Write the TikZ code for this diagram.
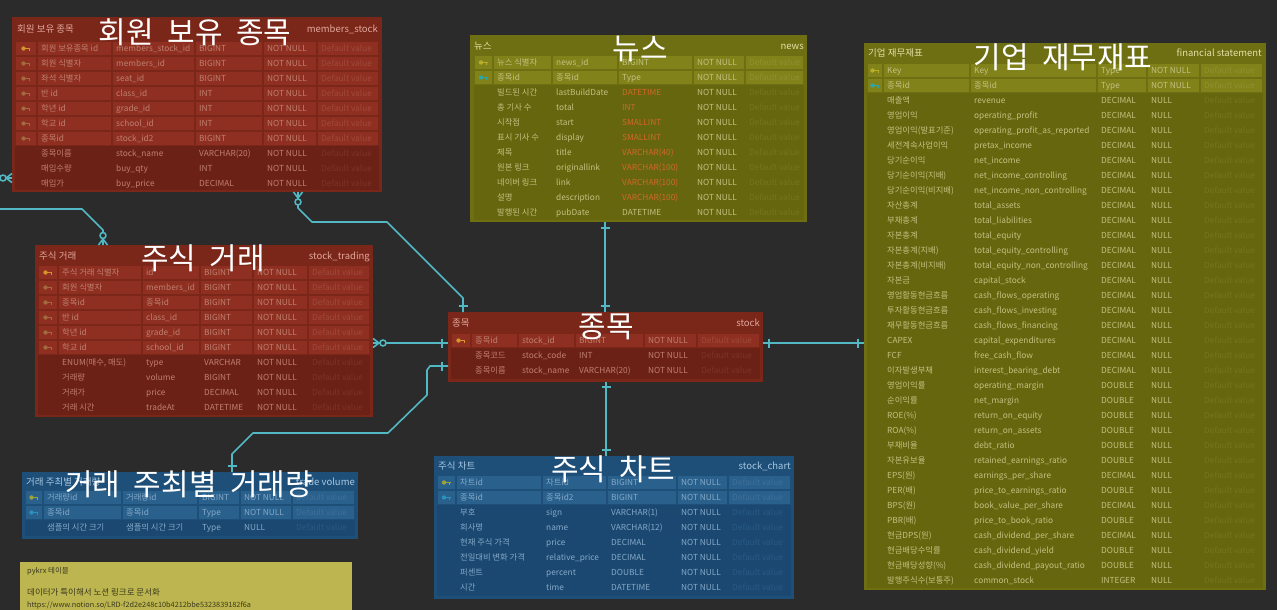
\documentclass[tikz,border=0pt]{standalone}
\usepackage{fontspec}
\setmainfont{Noto Sans CJK KR}
\newfontfamily\bigf[WordSpace=2]{Noto Sans CJK KR}
\definecolor{bg}{HTML}{2B2B2B}
\definecolor{redHead}{HTML}{7A2619}
\definecolor{redKey}{HTML}{8E2F21}
\definecolor{redPlain}{HTML}{6C2117}
\definecolor{redTxt}{HTML}{C0806F}
\definecolor{redDef}{HTML}{A04A3A}
\definecolor{redPDef}{HTML}{7E3327}
\definecolor{redHdr}{HTML}{E2A99C}
\definecolor{oliveHead}{HTML}{6E6E12}
\definecolor{oliveKey}{HTML}{82821A}
\definecolor{olivePlain}{HTML}{66660F}
\definecolor{oliveTxt}{HTML}{C2C282}
\definecolor{oliveDef}{HTML}{909030}
\definecolor{olivePDef}{HTML}{75751C}
\definecolor{oliveHdr}{HTML}{E2E2A8}
\definecolor{newsOr}{HTML}{D2682A}
\definecolor{blueHead}{HTML}{1D4F79}
\definecolor{blueKey}{HTML}{29608C}
\definecolor{bluePlain}{HTML}{1B4870}
\definecolor{blueTxt}{HTML}{85A9C9}
\definecolor{blueDef}{HTML}{3F7099}
\definecolor{bluePDef}{HTML}{285A84}
\definecolor{blueHdr}{HTML}{A9C8E2}
\definecolor{pkC}{HTML}{D5942B}
\definecolor{fkR}{HTML}{A36A3E}
\definecolor{pkY}{HTML}{B8AE2A}
\definecolor{fkT}{HTML}{2FA5A5}
\definecolor{pkB}{HTML}{9DA33A}
\definecolor{fkB}{HTML}{2B92C0}
\definecolor{lineC}{HTML}{52B8C4}
\definecolor{noteC}{HTML}{BDB650}
\definecolor{noteTxt}{HTML}{3A381C}

\newcommand\cols[7]{\def\ca{#1}\def\cb{#2}\def\cc{#3}\def\cd{#4}\def\ce{#5}\def\cf{#6}\def\cg{#7}}
\newcommand\tstyle[6]{\def\kfill{#1}\def\ktext{#2}\def\ktype{#2}\def\kdef{#3}\def\ptext{#4}\def\ptype{#4}\def\pdef{#5}\def\hdrc{#6}}
\newcommand\cellbg[3]{\fill[fill=\kfill] ({#1+0.7},{#3+0.7}) rectangle ({#2-0.7},{#3+14.3});}
\newcommand\keyic[3]{\fill[fill=#3] ({#1-2.5},{#2}) circle[radius=2.2pt];
  \draw[draw=#3,line width=1.3pt] ({#1-1},{#2}) -- ({#1+4},{#2});
  \draw[draw=#3,line width=1pt] ({#1+3},{#2}) -- ({#1+3},{#2+2.5});}
\newcommand\krow[9]{%
  \cellbg{\ca}{\cb}{#3}\cellbg{\cb}{\cc}{#3}\cellbg{\cc}{\cd}{#3}%
  \cellbg{\cd}{\ce}{#3}\cellbg{\ce}{\cf}{#3}\cellbg{\cf}{\cg}{#3}%
  \keyic{(\ca+\cb)/2}{#3+7.5}{#4}%
  \node[cell,text=\ktext] (#1-#2-a) at ({\cb+4},{#3+10.6}) {#5};%
  \node[cell,text=\ktext] (#1-#2-b) at ({\cc+4},{#3+10.6}) {#6};%
  \node[cell,text=\ktype] (#1-#2-c) at ({\cd+4},{#3+10.6}) {#7};%
  \node[cell,text=\ktext] (#1-#2-d) at ({\ce+4},{#3+10.6}) {#8};%
  \node[cell,text=\kdef] (#1-#2-e) at ({\cf+4},{#3+10.6}) {#9};}
\newcommand\prow[8]{%
  \node[cell,text=\ptext] (#1-#2-a) at ({\cb+4},{#3+10.6}) {#4};%
  \node[cell,text=\ptext] (#1-#2-b) at ({\cc+4},{#3+10.6}) {#5};%
  \node[cell,text=\ptype] (#1-#2-c) at ({\cd+4},{#3+10.6}) {#6};%
  \node[cell,text=\ptext] (#1-#2-d) at ({\ce+4},{#3+10.6}) {#7};%
  \node[cell,text=\pdef] (#1-#2-e) at ({\cf+4},{#3+10.6}) {#8};}
\newcommand\hdrleft[4]{\node[hdr,text=\hdrc,anchor=base west] (#1-hl) at (#2,#3) {#4};}
\newcommand\hdrright[4]{\node[hdr,text=\hdrc,anchor=base east] (#1-hr) at (#2,#3) {#4};}
\newcommand\crowV[3]{\draw[conn] ({#1-4.5},#2) -- (#1,{#2+#3}) -- ({#1+4.5},#2);}
\newcommand\crowH[3]{\draw[conn] (#1,{#2-4.5}) -- ({#1+#3},#2) -- (#1,{#2+4.5});}
\newcommand\ring[2]{\draw[conn,fill=bg] (#1,#2) circle[radius=3pt];}
\newcommand\barH[2]{\draw[conn] ({#1-4.5},#2) -- ({#1+4.5},#2);}
\newcommand\barV[2]{\draw[conn] (#1,{#2-4.5}) -- (#1,{#2+4.5});}

\begin{document}
\begin{tikzpicture}[x=1pt,y=-1pt,
  tbox/.style={draw=none,inner sep=0pt,outer sep=0pt,anchor=north west},
  cell/.style={font=\fontsize{8.3}{9}\selectfont,inner sep=0pt,anchor=base west},
  hdr/.style={font=\fontsize{9.5}{10}\selectfont,inner sep=0pt},
  big/.style={font=\bigf\fontsize{30}{32}\selectfont,text=white,inner sep=0pt},
  conn/.style={draw=lineC,line width=1.6pt,line join=round}]
\fill[bg] (0,0) rectangle (1277,610);
\useasboundingbox (0,0) rectangle (1277,610);

% ================= members_stock
\node[tbox,fill=redHead,minimum width=370pt,minimum height=175pt] (ms) at (12,17) {};
\fill[redPlain] (15,146) rectangle (379,190);
\cols{15}{37}{112}{195}{263}{317}{379}
\tstyle{redKey}{redTxt}{redDef}{redTxt}{redPDef}{redHdr}
\hdrleft{ms}{17}{33}{회원 보유 종목}
\hdrright{ms}{378}{33}{members\_stock}
\krow{ms}{1}{41}{pkC}{회원 보유종목 id}{members\_stock\_id}{BIGINT}{NOT NULL}{Default value}
\krow{ms}{2}{56}{fkR}{회원 식별자}{members\_id}{BIGINT}{NOT NULL}{Default value}
\krow{ms}{3}{71}{fkR}{좌석 식별자}{seat\_id}{BIGINT}{NOT NULL}{Default value}
\krow{ms}{4}{86}{fkR}{반 id}{class\_id}{INT}{NOT NULL}{Default value}
\krow{ms}{5}{101}{fkR}{학년 id}{grade\_id}{INT}{NOT NULL}{Default value}
\krow{ms}{6}{116}{fkR}{학교 id}{school\_id}{INT}{NOT NULL}{Default value}
\krow{ms}{7}{131}{fkR}{종목id}{stock\_id2}{BIGINT}{NOT NULL}{Default value}
\prow{ms}{8}{146}{종목이름}{stock\_name}{VARCHAR(20)}{NOT NULL}{Default value}
\prow{ms}{9}{161}{매입수량}{buy\_qty}{INT}{NOT NULL}{Default value}
\prow{ms}{10}{176}{매입가}{buy\_price}{DECIMAL}{NOT NULL}{Default value}

% ================= stock_trading
\node[tbox,fill=redHead,minimum width=338pt,minimum height=172pt] (tr) at (35,245) {};
\fill[redPlain] (38,355) rectangle (370,415);
\cols{38}{58}{142}{200}{253}{308}{370}
\hdrleft{tr}{39}{259}{주식 거래}
\hdrright{tr}{370}{259}{stock\_trading}
\krow{tr}{1}{265}{pkC}{주식 거래 식별자}{id}{BIGINT}{NOT NULL}{Default value}
\krow{tr}{2}{280}{fkR}{회원 식별자}{members\_id}{BIGINT}{NOT NULL}{Default value}
\krow{tr}{3}{295}{fkR}{종목id}{종목id}{BIGINT}{NOT NULL}{Default value}
\krow{tr}{4}{310}{fkR}{반 id}{class\_id}{BIGINT}{NOT NULL}{Default value}
\krow{tr}{5}{325}{fkR}{학년 id}{grade\_id}{BIGINT}{NOT NULL}{Default value}
\krow{tr}{6}{340}{fkR}{학교 id}{school\_id}{BIGINT}{NOT NULL}{Default value}
\prow{tr}{7}{355}{ENUM(매수, 매도)}{type}{VARCHAR}{NOT NULL}{Default value}
\prow{tr}{8}{370}{거래량}{volume}{BIGINT}{NOT NULL}{Default value}
\prow{tr}{9}{385}{거래가}{price}{DECIMAL}{NOT NULL}{Default value}
\prow{tr}{10}{400}{거래 시간}{tradeAt}{DATETIME}{NOT NULL}{Default value}

% ================= news
\node[tbox,fill=oliveHead,minimum width=337pt,minimum height=187pt] (nw) at (470,35) {};
\fill[olivePlain] (474,85) rectangle (804,220);
\cols{474}{493}{552}{618}{693}{745}{804}
\tstyle{oliveKey}{oliveTxt}{oliveDef}{oliveTxt}{olivePDef}{oliveHdr}
\hdrleft{nw}{474}{49}{뉴스}
\hdrright{nw}{804}{49}{news}
\krow{nw}{1}{55}{pkY}{뉴스 식별자}{news\_id}{BIGINT}{NOT NULL}{Default value}
\krow{nw}{2}{70}{fkT}{종목id}{종목id}{Type}{NOT NULL}{Default value}
\def\ptype{newsOr}
\prow{nw}{3}{85}{빌드된 시간}{lastBuildDate}{DATETIME}{NOT NULL}{Default value}
\prow{nw}{4}{100}{총 기사 수}{total}{INT}{NOT NULL}{Default value}
\prow{nw}{5}{115}{시작점}{start}{SMALLINT}{NOT NULL}{Default value}
\prow{nw}{6}{130}{표시 기사 수}{display}{SMALLINT}{NOT NULL}{Default value}
\prow{nw}{7}{145}{제목}{title}{VARCHAR(40)}{NOT NULL}{Default value}
\prow{nw}{8}{160}{원본 링크}{originallink}{VARCHAR(100)}{NOT NULL}{Default value}
\prow{nw}{9}{175}{네이버 링크}{link}{VARCHAR(100)}{NOT NULL}{Default value}
\prow{nw}{10}{190}{설명}{description}{VARCHAR(100)}{NOT NULL}{Default value}
\def\ptype{oliveTxt}
\prow{nw}{11}{205}{발행된 시간}{pubDate}{DATETIME}{NOT NULL}{Default value}

% ================= stock
\node[tbox,fill=redHead,minimum width=315pt,minimum height=70pt] (st) at (448,312) {};
\fill[redPlain] (451,348) rectangle (760,379);
\cols{451}{471}{518}{575}{644}{697}{760}
\tstyle{redKey}{redTxt}{redDef}{redTxt}{redPDef}{redHdr}
\hdrleft{st}{452}{326.5}{종목}
\hdrright{st}{760}{326.5}{stock}
\krow{st}{1}{333}{pkC}{종목id}{stock\_id}{BIGINT}{NOT NULL}{Default value}
\prow{st}{2}{348}{종목코드}{stock\_code}{INT}{NOT NULL}{Default value}
\prow{st}{3}{363}{종목이름}{stock\_name}{VARCHAR(20)}{NOT NULL}{Default value}

% ================= financial statement
\node[tbox,fill=oliveHead,minimum width=402pt,minimum height=547pt] (fs) at (864,43) {};
\fill[olivePlain] (867,93) rectangle (1263,588);
\cols{867}{883}{970}{1097}{1147}{1200}{1263}
\tstyle{oliveKey}{oliveTxt}{oliveDef}{oliveTxt}{olivePDef}{oliveHdr}
\hdrleft{fs}{868}{57}{기업 재무재표}
\hdrright{fs}{1262}{57}{financial statement}
\krow{fs}{1}{63}{pkY}{Key}{Key}{Type}{NOT NULL}{Default value}
\krow{fs}{2}{78}{fkT}{종목id}{종목id}{Type}{NOT NULL}{Default value}
\prow{fs}{3}{93}{매출액}{revenue}{DECIMAL}{NULL}{Default value}
\prow{fs}{4}{108}{영업이익}{operating\_profit}{DECIMAL}{NULL}{Default value}
\prow{fs}{5}{123}{영업이익(발표기준)}{operating\_profit\_as\_reported}{DECIMAL}{NULL}{Default value}
\prow{fs}{6}{138}{세전계속사업이익}{pretax\_income}{DECIMAL}{NULL}{Default value}
\prow{fs}{7}{153}{당기순이익}{net\_income}{DECIMAL}{NULL}{Default value}
\prow{fs}{8}{168}{당기순이익(지배)}{net\_income\_controlling}{DECIMAL}{NULL}{Default value}
\prow{fs}{9}{183}{당기순이익(비지배)}{net\_income\_non\_controlling}{DECIMAL}{NULL}{Default value}
\prow{fs}{10}{198}{자산총계}{total\_assets}{DECIMAL}{NULL}{Default value}
\prow{fs}{11}{213}{부채총계}{total\_liabilities}{DECIMAL}{NULL}{Default value}
\prow{fs}{12}{228}{자본총계}{total\_equity}{DECIMAL}{NULL}{Default value}
\prow{fs}{13}{243}{자본총계(지배)}{total\_equity\_controlling}{DECIMAL}{NULL}{Default value}
\prow{fs}{14}{258}{자본총계(비지배)}{total\_equity\_non\_controlling}{DECIMAL}{NULL}{Default value}
\prow{fs}{15}{273}{자본금}{capital\_stock}{DECIMAL}{NULL}{Default value}
\prow{fs}{16}{288}{영업활동현금흐름}{cash\_flows\_operating}{DECIMAL}{NULL}{Default value}
\prow{fs}{17}{303}{투자활동현금흐름}{cash\_flows\_investing}{DECIMAL}{NULL}{Default value}
\prow{fs}{18}{318}{재무활동현금흐름}{cash\_flows\_financing}{DECIMAL}{NULL}{Default value}
\prow{fs}{19}{333}{CAPEX}{capital\_expenditures}{DECIMAL}{NULL}{Default value}
\prow{fs}{20}{348}{FCF}{free\_cash\_flow}{DECIMAL}{NULL}{Default value}
\prow{fs}{21}{363}{이자발생부채}{interest\_bearing\_debt}{DECIMAL}{NULL}{Default value}
\prow{fs}{22}{378}{영업이익률}{operating\_margin}{DOUBLE}{NULL}{Default value}
\prow{fs}{23}{393}{순이익률}{net\_margin}{DOUBLE}{NULL}{Default value}
\prow{fs}{24}{408}{ROE(\%)}{return\_on\_equity}{DOUBLE}{NULL}{Default value}
\prow{fs}{25}{423}{ROA(\%)}{return\_on\_assets}{DOUBLE}{NULL}{Default value}
\prow{fs}{26}{438}{부채비율}{debt\_ratio}{DOUBLE}{NULL}{Default value}
\prow{fs}{27}{453}{자본유보율}{retained\_earnings\_ratio}{DOUBLE}{NULL}{Default value}
\prow{fs}{28}{468}{EPS(원)}{earnings\_per\_share}{DECIMAL}{NULL}{Default value}
\prow{fs}{29}{483}{PER(배)}{price\_to\_earnings\_ratio}{DOUBLE}{NULL}{Default value}
\prow{fs}{30}{498}{BPS(원)}{book\_value\_per\_share}{DECIMAL}{NULL}{Default value}
\prow{fs}{31}{513}{PBR(배)}{price\_to\_book\_ratio}{DOUBLE}{NULL}{Default value}
\prow{fs}{32}{528}{현금DPS(원)}{cash\_dividend\_per\_share}{DECIMAL}{NULL}{Default value}
\prow{fs}{33}{543}{현금배당수익률}{cash\_dividend\_yield}{DOUBLE}{NULL}{Default value}
\prow{fs}{34}{558}{현금배당성향(\%)}{cash\_dividend\_payout\_ratio}{DOUBLE}{NULL}{Default value}
\prow{fs}{35}{573}{발행주식수(보통주)}{common\_stock}{INTEGER}{NULL}{Default value}

% ================= trade volume
\node[tbox,fill=blueHead,minimum width=336pt,minimum height=67pt] (vol) at (22,472) {};
\fill[bluePlain] (25,520) rectangle (355,536);
\cols{25}{43}{122}{198}{240}{292}{355}
\tstyle{blueKey}{blueTxt}{blueDef}{blueTxt}{bluePDef}{blueHdr}
\hdrleft{vol}{26}{485}{거래 주최별 거래량}
\hdrright{vol}{355}{485}{trade volume}
\krow{vol}{1}{490}{pkB}{거래량id}{거래량id}{BIGINT}{NOT NULL}{Default value}
\krow{vol}{2}{505}{fkB}{종목id}{종목id}{Type}{NOT NULL}{Default value}
\prow{vol}{3}{520}{샘플의 시간 크기}{샘플의 시간 크기}{Type}{NULL}{Default value}

% ================= stock_chart
\node[tbox,fill=blueHead,minimum width=360pt,minimum height=143pt] (ch) at (434,456) {};
\fill[bluePlain] (437,505) rectangle (791,596);
\cols{437}{456}{542}{607}{677}{728}{791}
\hdrleft{ch}{438}{469.5}{주식 차트}
\hdrright{ch}{791}{469.5}{stock\_chart}
\krow{ch}{1}{475}{pkB}{차트id}{차트id}{BIGINT}{NOT NULL}{Default value}
\krow{ch}{2}{490}{fkB}{종목id}{종목id2}{BIGINT}{NOT NULL}{Default value}
\prow{ch}{3}{505}{부호}{sign}{VARCHAR(1)}{NOT NULL}{Default value}
\prow{ch}{4}{520}{회사명}{name}{VARCHAR(12)}{NOT NULL}{Default value}
\prow{ch}{5}{535}{현재 주식 가격}{price}{DECIMAL}{NOT NULL}{Default value}
\prow{ch}{6}{550}{전일대비 변화 가격}{relative\_price}{DECIMAL}{NOT NULL}{Default value}
\prow{ch}{7}{565}{퍼센트}{percent}{DOUBLE}{NOT NULL}{Default value}
\prow{ch}{8}{580}{시간}{time}{DATETIME}{NOT NULL}{Default value}

% ================= note
\node[tbox,fill=noteC,minimum width=332pt,minimum height=60pt] (note) at (20,562) {};
\node[anchor=base west,inner sep=0pt,font=\fontsize{7.5}{8}\selectfont,text=noteTxt] (note-t) at (27,573) {pykrx 테이블};
\node[anchor=base west,inner sep=0pt,font=\fontsize{8.5}{9}\selectfont,text=noteTxt] (note-l1) at (27,595) {데이터가 특이해서 노션 링크로 문서화};
\node[anchor=base west,inner sep=0pt,font=\fontsize{7.3}{8}\selectfont,text=noteTxt] (note-l2) at (27,607.5) {https://www.notion.so/LRD-f2d2e248c10b4212bbe5323839182f6a};

% ================= connectors
\coordinate (offA) at (0,209);
\coordinate (offB) at (0,178);
% off-canvas -> stock_trading
\draw[conn] (offA) -- (82,209) -- (103,230) -- ([xshift=68pt]tr.north west);
\crowV{103}{245}{-6}\ring{103}{235.5}
% off-canvas -> members_stock
\draw[conn] (offB) -- (offB -| ms.west);
\crowH{12}{178}{-6}\ring{3}{178}
% members_stock -> stock
\draw[conn] ([xshift=286pt]ms.south west) -- ++(0,16) -- ++(14,14) -- (387,222) -- (463,298) -- ([xshift=15pt]st.north west);
\crowV{298}{192}{6}\ring{298}{202}\barH{463}{306}
% stock_trading -> stock
\draw[conn] ([yshift=-12pt]tr.east) -- ([yshift=4pt]st.west);
\crowH{373}{343}{6}\ring{383}{343}\barV{442}{343}
% news -> stock
\draw[conn] ([xshift=135pt]nw.south west) -- ([xshift=157pt]st.north west);
\barH{605}{228}\barH{605}{306}
% stock -> stock_chart
\draw[conn] ([xshift=158pt]st.south west) -- ([xshift=172pt]ch.north west);
\barH{606}{387}\barH{606}{450}
% stock -> trade volume
\draw[conn] ([yshift=-19pt]st.west) -- (430,366) -- (427,370) -- (427,395) -- (388,433) -- (253,433) -- (232,454) -- ([xshift=210pt]vol.north west);
\barV{442}{366}\barH{232}{466}
% stock -> financial statement
\draw[conn] ([yshift=4pt]st.east) -- ([yshift=-26.5pt]fs.west);
\barV{769}{343}\barV{858}{343}

% ================= big titles
\node[big] (ms-title) at (195,32) {회원 보유 종목};
\node[big] (tr-title) at (203,258) {주식 거래};
\node[big] (nw-title) at (640,49) {뉴스};
\node[big] (st-title) at (606,327) {종목};
\node[big] (fs-title) at (1063,57) {기업 재무재표};
\node[big] (vol-title) at (189,484) {거래 주최별 거래량};
\node[big] (ch-title) at (613,469) {주식 차트};
\end{tikzpicture}
\end{document}
